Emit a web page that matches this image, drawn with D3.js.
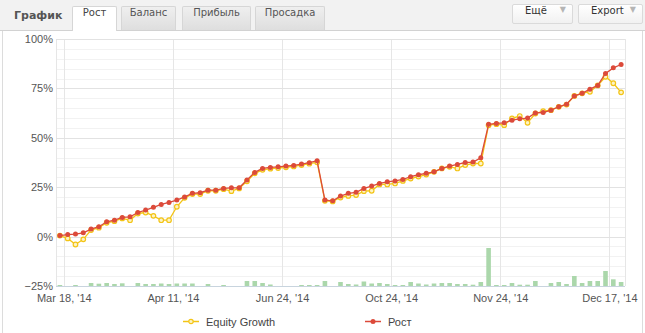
<!DOCTYPE html>
<html>
<head>
<meta charset="utf-8">
<script src="https://cdn.jsdelivr.net/npm/d3@7/dist/d3.min.js"></script>
<style>
  html, body { margin: 0; padding: 0; background: #fff; }
  #wrap { position: relative; width: 645px; height: 333px; overflow: hidden; background: #fff; }
  #hdr { position: absolute; left: 0; top: 0; width: 645px; height: 30px; background: #f2f2f2; border-bottom: 1px solid #d2d2d2; }
  #hdr .title { position: absolute; left: 14px; top: 9px; font: bold 11px "DejaVu Sans", sans-serif; color: #555; }
  #hdr .tab { position: absolute; top: 6px; height: 24px; line-height: 24px; text-align: center;
              font: 10px "DejaVu Sans", sans-serif; color: #555; box-sizing: border-box;
              border: 1px solid #d6d6d6; border-bottom: none; border-radius: 2px 2px 0 0;
              background: linear-gradient(#efefef, #dedede); }
  #hdr .tab.on { background: #fff; height: 25px; color: #444; }
  #hdr .btn { position: absolute; top: 4px; height: 20px; line-height: 19px; box-sizing: border-box;
              border: 1px solid #dadada; border-radius: 2px; background: linear-gradient(#ffffff, #f1f1f1);
              font: 10px "DejaVu Sans", sans-serif; color: #333; }
  #hdr .btn span.t { position: absolute; left: 12px; }
  #hdr .btn span.a { position: absolute; right: 6px; top: 0; color: #b5b5b5; font-size: 8px; }
  #chart { position: absolute; left: 0; top: 0; }
</style>
</head>
<body>
<div id="wrap">
  <svg id="chart" width="645" height="333"></svg>
  <div id="hdr"></div>
</div>
<script>
// Growth (%) per period
const growth = [0.5, 1.0, 1.3, 1.9, 3.8, 5.0, 7.5, 8.3, 9.7, 10.0,
  12.2, 13.4, 14.8, 16.3, 17.3, 18.5, 20.1, 21.9, 22.2, 23.5,
  23.5, 24.4, 24.7, 24.7, 28.6, 32.5, 34.5, 35.0, 35.3, 35.7,
  36.0, 36.7, 37.4, 38.4, 18.5, 18.1, 20.5, 21.9, 22.4, 24.4,
  25.6, 26.9, 27.7, 28.2, 28.9, 30.3, 31.3, 32.0, 32.8, 34.5,
  35.7, 36.5, 37.5, 37.7, 39.9, 56.8, 57.3, 57.6, 58.9, 59.6,
  60.0, 62.6, 62.8, 64.0, 65.7, 67.0, 71.2, 72.5, 74.6, 76.5,
  82.6, 85.4, 87.1];

// Equity growth (%) per period
const equity = [0.5, -0.9, -4.0, -1.4, 3.3, 4.5, 7.0, 7.8, 9.2, 8.3,
  11.7, 12.2, 10.5, 8.3, 8.3, 15.1, 19.6, 21.5, 21.5, 23.2,
  23.2, 24.0, 23.0, 24.4, 28.0, 32.0, 33.8, 34.4, 34.7, 35.1,
  35.5, 36.2, 36.9, 37.6, 18.1, 17.8, 19.8, 20.6, 21.0, 23.0,
  23.2, 26.4, 26.4, 26.9, 28.2, 29.4, 30.4, 31.4, 32.8, 34.5,
  35.3, 34.5, 36.2, 37.0, 37.0, 56.4, 56.9, 56.4, 59.8, 61.0,
  57.6, 62.3, 63.5, 64.0, 65.7, 66.8, 71.2, 72.5, 73.3, 76.5,
  80.9, 77.6, 73.0];

// Trading volume per period (bars along the bottom)
const volume = [1, 0, 1, 0, 3, 2.3, 3, 2, 2.7, 0,
  3, 2, 2, 2.5, 2, 2.5, 2.5, 2.5, 0, 2,
  0, 1, 0, 0, 5, 5, 3, 1.5, 0, 0,
  0, 1, 1, 1, 5, 0, 4, 2, 1.5, 4.5,
  2.5, 3, 2, 1, 1, 4, 2.5, 1.5, 2.5, 3,
  3, 2, 2, 1.3, 4, 38, 1, 1, 3, 1.3,
  1.3, 5, 0, 3, 4, 2, 10, 3, 5, 5,
  15, 6.7, 4];

// Category axis labels
const tickIndex = [1, 15, 29, 43, 57, 71];
const tickLabels = ["Mar 18, '14", "Apr 11, '14", "Jun 24, '14", "Oct 24, '14", "Nov 24, '14", "Dec 17, '14"];
const yTicks = [-25, 0, 25, 50, 75, 100];

const tabs = [
  { name: "Рост", left: 72, width: 45, on: true },
  { name: "Баланс", left: 121, width: 55 },
  { name: "Прибыль", left: 182, width: 69 },
  { name: "Просадка", left: 255, width: 70 }
];
const buttons = [
  { name: "Ещё", left: 512, width: 61 },
  { name: "Export", left: 578, width: 65 }
];

// ---- header ----
const hdr = d3.select("#hdr");
hdr.append("div").attr("class", "title").text("График");
hdr.selectAll("div.tab").data(tabs).join("div")
  .attr("class", d => "tab" + (d.on ? " on" : ""))
  .style("left", d => d.left + "px")
  .style("width", d => d.width + "px")
  .text(d => d.name);
const btn = hdr.selectAll("div.btn").data(buttons).join("div")
  .attr("class", "btn")
  .style("left", d => d.left + "px")
  .style("width", d => d.width + "px");
btn.append("span").attr("class", "t").text(d => d.name);
btn.append("span").attr("class", "a").text("▼");

// ---- chart ----
const svg = d3.select("#chart");
const n = growth.length;
const plotL = 56, plotR = 625, plotT = 39, plotB = 286;

const x = d3.scaleLinear().domain([0, n]).range([plotL, plotR]);
const cx = i => x(i + 0.5);
const y = d3.scaleLinear().domain([-25, 100]).range([plotB, plotT]);
const yVol = d3.scaleLinear().domain([0, 100]).range([plotB, plotB - 100]);

// frame borders of the chart container
svg.append("line").attr("x1", 2.5).attr("x2", 2.5).attr("y1", 30).attr("y2", 333).attr("stroke", "#dcdcdc");
svg.append("line").attr("x1", 642.5).attr("x2", 642.5).attr("y1", 30).attr("y2", 333).attr("stroke", "#dcdcdc");

// minor horizontal grid
const g = svg.append("g");
g.selectAll("line.minor").data(d3.range(-25, 101, 5).filter(v => v % 25 !== 0)).join("line")
  .attr("x1", plotL).attr("x2", plotR)
  .attr("y1", d => Math.round(y(d)) + 0.5).attr("y2", d => Math.round(y(d)) + 0.5)
  .attr("stroke", "#f2f2f2");
// vertical grid
g.selectAll("line.vg").data(tickIndex).join("line")
  .attr("x1", d => Math.round(x(d)) + 0.5).attr("x2", d => Math.round(x(d)) + 0.5)
  .attr("y1", plotT).attr("y2", plotB)
  .attr("stroke", "#e6e6e6");
// plot edges
[plotL, plotR].forEach(v => {
  g.append("line").attr("x1", v + 0.5).attr("x2", v + 0.5).attr("y1", plotT).attr("y2", plotB).attr("stroke", "#e6e6e6");
});
// major horizontal grid
g.selectAll("line.major").data(yTicks.filter(v => v > -25)).join("line")
  .attr("x1", plotL).attr("x2", plotR)
  .attr("y1", d => Math.round(y(d)) + 0.5).attr("y2", d => Math.round(y(d)) + 0.5)
  .attr("stroke", "#e2e2e2");

// y axis labels
const yAxis = d3.axisLeft(y).tickValues(yTicks).tickSize(0).tickPadding(3)
  .tickFormat(d => (d < 0 ? "−" + Math.abs(d) : d) + "%");
svg.append("g").attr("transform", `translate(${plotL},0)`).call(yAxis)
  .call(a => a.select(".domain").remove())
  .selectAll("text")
  .attr("font-family", "'Liberation Sans', Arial, sans-serif")
  .attr("font-size", 11).attr("fill", "#555");

// volume bars
const bw = 4.6;
svg.append("g").selectAll("rect").data(volume).join("rect")
  .attr("x", (d, i) => cx(i) - bw / 2)
  .attr("width", bw)
  .attr("y", d => yVol(d))
  .attr("height", d => plotB - yVol(d))
  .attr("fill", "#abd7ab");

// x axis
const xAxis = d3.axisBottom(x).tickValues(tickIndex).tickSize(0).tickPadding(8)
  .tickFormat((d, i) => tickLabels[i]);
const xa = svg.append("g").attr("transform", `translate(0,${plotB})`).call(xAxis);
xa.select(".domain").remove();
xa.selectAll("text")
  .attr("font-family", "'Liberation Sans', Arial, sans-serif")
  .attr("font-size", 11).attr("fill", "#555");
svg.append("line").attr("x1", plotL).attr("x2", plotR)
  .attr("y1", plotB + 0.5).attr("y2", plotB + 0.5).attr("stroke", "#c8d4de");

// series
const yellow = "#f3c416", red = "#dc4a3a";
const line = d3.line().x((d, i) => cx(i)).y(d => y(d));

svg.append("path").datum(equity).attr("d", line)
  .attr("fill", "none").attr("stroke", yellow).attr("stroke-width", 1.3);
svg.append("g").selectAll("circle").data(equity).join("circle")
  .attr("cx", (d, i) => cx(i)).attr("cy", d => y(d)).attr("r", 2.3)
  .attr("fill", "#fdf3c4").attr("stroke", yellow).attr("stroke-width", 1.2);

svg.append("path").datum(growth).attr("d", line)
  .attr("fill", "none").attr("stroke", red).attr("stroke-width", 1.3);
svg.append("g").selectAll("circle").data(growth).join("circle")
  .attr("cx", (d, i) => cx(i)).attr("cy", d => y(d)).attr("r", 2.5)
  .attr("fill", red);

// legend
const legend = [
  { name: "Equity Growth", color: yellow, hollow: true, x: 183 },
  { name: "Рост", color: red, hollow: false, x: 365 }
];
const lg = svg.append("g").selectAll("g").data(legend).join("g")
  .attr("transform", d => `translate(${d.x},321)`);
lg.append("line").attr("x1", 0).attr("x2", 16).attr("y1", 0.5).attr("y2", 0.5)
  .attr("stroke", d => d.color).attr("stroke-width", 1.5);
lg.append("circle").attr("cx", 8).attr("cy", 0.5).attr("r", d => d.hollow ? 2.2 : 2.5)
  .attr("fill", d => d.hollow ? "#fdf3c4" : d.color)
  .attr("stroke", d => d.hollow ? d.color : "none").attr("stroke-width", 1.2);
lg.append("text").attr("x", 23).attr("y", 4.5)
  .attr("font-family", "'Liberation Sans', Arial, sans-serif")
  .attr("font-size", 11).attr("fill", "#444")
  .text(d => d.name);
</script>
</body>
</html>
